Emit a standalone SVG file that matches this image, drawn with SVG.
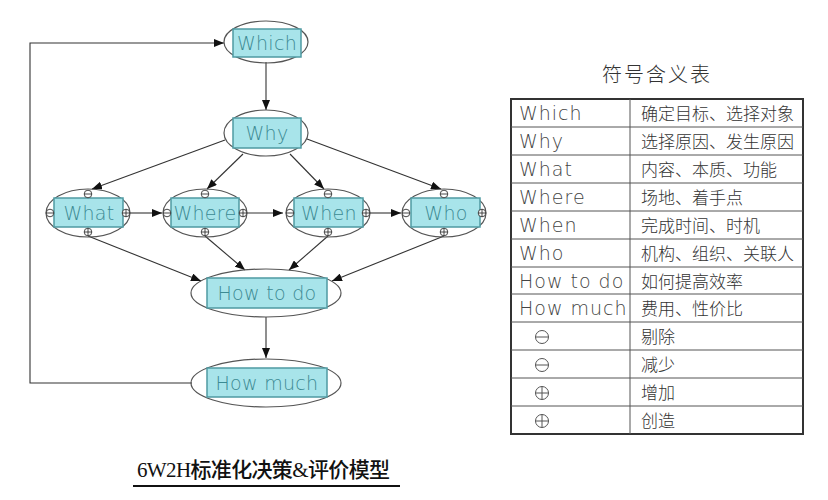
<svg xmlns="http://www.w3.org/2000/svg" width="828" height="500" viewBox="0 0 828 500">
<style>
.ell{fill:none;stroke:#555;stroke-width:1.2}
.box{fill:#a8e4ea;stroke:#4f9aa2;stroke-width:1.5}
.lbl{font-family:"DejaVu Sans",sans-serif;font-weight:200;font-size:19px;fill:#3c8a93;text-anchor:middle;letter-spacing:0.3px}
.con{fill:none;stroke:#333;stroke-width:1.1}
.sym{fill:#fff;stroke:#333;stroke-width:0.9}
.ten{font-family:"DejaVu Sans",sans-serif;font-weight:200;font-size:19px;fill:#444;letter-spacing:1px}
.tcn{font-family:"Noto Sans CJK SC",sans-serif;font-weight:300;font-size:17px;fill:#333}
.grid{stroke:#555;stroke-width:1}
</style>
<defs>
<marker id="ah" markerUnits="userSpaceOnUse" markerWidth="10" markerHeight="8" refX="10" refY="4" orient="auto">
<path d="M0,0 L10,4 L0,8 z" fill="#111"/>
</marker>
<g id="minus"><circle class="sym" r="3.8"/><line x1="-3.8" y1="0" x2="3.8" y2="0" stroke="#333" stroke-width="0.9"/></g>
<g id="plus"><circle class="sym" r="3.8"/><line x1="-3.8" y1="0" x2="3.8" y2="0" stroke="#333" stroke-width="0.9"/><line x1="0" y1="-3.8" x2="0" y2="3.8" stroke="#333" stroke-width="0.9"/></g>
<g id="tminus"><circle fill="none" stroke="#555" stroke-width="1" r="6.5"/><line x1="-6.5" y1="0" x2="6.5" y2="0" stroke="#555" stroke-width="1"/></g>
<g id="tplus"><circle fill="none" stroke="#555" stroke-width="1" r="6.5"/><line x1="-6.5" y1="0" x2="6.5" y2="0" stroke="#555" stroke-width="1"/><line x1="0" y1="-6.5" x2="0" y2="6.5" stroke="#555" stroke-width="1"/></g>
</defs>

<g id="connectors">
<line class="con" x1="266" y1="62" x2="266" y2="110" marker-end="url(#ah)"/>
<line class="con" x1="225" y1="140" x2="92" y2="189" marker-end="url(#ah)"/>
<line class="con" x1="243" y1="154" x2="207" y2="189" marker-end="url(#ah)"/>
<line class="con" x1="290" y1="154" x2="324" y2="189" marker-end="url(#ah)"/>
<line class="con" x1="307" y1="139" x2="441" y2="189" marker-end="url(#ah)"/>
<line class="con" x1="130" y1="213" x2="162" y2="213" marker-end="url(#ah)"/>
<line class="con" x1="247" y1="213" x2="283" y2="213" marker-end="url(#ah)"/>
<line class="con" x1="370" y1="213" x2="401" y2="213" marker-end="url(#ah)"/>
<line class="con" x1="88" y1="236" x2="201" y2="281" marker-end="url(#ah)"/>
<line class="con" x1="205" y1="236" x2="245" y2="270" marker-end="url(#ah)"/>
<line class="con" x1="328" y1="236" x2="289" y2="270" marker-end="url(#ah)"/>
<line class="con" x1="444" y1="236" x2="332" y2="281" marker-end="url(#ah)"/>
<line class="con" x1="266" y1="317" x2="266" y2="358" marker-end="url(#ah)"/>
<polyline class="con" points="192,383 30,383 30,43 224,43" marker-end="url(#ah)"/>
</g>

<g id="which">
<ellipse class="ell" cx="266" cy="42" rx="42" ry="21"/>
<rect class="box" x="233" y="29" width="68" height="28"/>
<text class="lbl" x="267" y="50">Which</text>
</g>
<g id="why">
<ellipse class="ell" cx="266" cy="133" rx="42" ry="23"/>
<rect class="box" x="233" y="118" width="68" height="30"/>
<text class="lbl" x="267" y="140">Why</text>
</g>
<g id="what">
<ellipse class="ell" cx="88" cy="213" rx="42" ry="24"/>
<rect class="box" x="54" y="198" width="69" height="29"/>
<text class="lbl" x="89" y="220">What</text>
<use href="#minus" x="88" y="194"/><use href="#minus" x="50" y="213"/><use href="#plus" x="126" y="213"/><use href="#plus" x="88" y="232"/>
</g>
<g id="where">
<ellipse class="ell" cx="205" cy="213" rx="42" ry="24"/>
<rect class="box" x="171" y="198" width="68" height="29"/>
<text class="lbl" x="205" y="220">Where</text>
<use href="#minus" x="205" y="194"/><use href="#minus" x="167" y="213"/><use href="#plus" x="243" y="213"/><use href="#plus" x="205" y="232"/>
</g>
<g id="when">
<ellipse class="ell" cx="328" cy="213" rx="42" ry="24"/>
<rect class="box" x="294" y="198" width="69" height="29"/>
<text class="lbl" x="329" y="220">When</text>
<use href="#minus" x="328" y="194"/><use href="#minus" x="290" y="213"/><use href="#plus" x="366" y="213"/><use href="#plus" x="328" y="232"/>
</g>
<g id="who">
<ellipse class="ell" cx="444" cy="213" rx="42" ry="24"/>
<rect class="box" x="411" y="198" width="69" height="29"/>
<text class="lbl" x="446" y="220">Who</text>
<use href="#minus" x="444" y="194"/><use href="#minus" x="406" y="213"/><use href="#plus" x="482" y="213"/><use href="#plus" x="444" y="232"/>
</g>
<g id="howtodo">
<ellipse class="ell" cx="266" cy="293" rx="75" ry="24"/>
<rect class="box" x="207" y="278" width="120" height="30"/>
<text class="lbl" x="267" y="300" letter-spacing="1">How to do</text>
</g>
<g id="howmuch">
<ellipse class="ell" cx="266" cy="383" rx="75" ry="24"/>
<rect class="box" x="207" y="368" width="120" height="29"/>
<text class="lbl" x="267" y="390" letter-spacing="1">How much</text>
</g>

<g id="legend">
<text x="657" y="82" font-family="'Noto Sans CJK SC',sans-serif" font-weight="300" font-size="20" fill="#333" text-anchor="middle" letter-spacing="2">符号含义表</text>
<rect x="511" y="99" width="292" height="335" fill="none" stroke="#333" stroke-width="2"/>
<line class="grid" x1="630" y1="99" x2="630" y2="434"/>
<line class="grid" x1="511" y1="127" x2="803" y2="127"/>
<line class="grid" x1="511" y1="155" x2="803" y2="155"/>
<line class="grid" x1="511" y1="183" x2="803" y2="183"/>
<line class="grid" x1="511" y1="211" x2="803" y2="211"/>
<line class="grid" x1="511" y1="239" x2="803" y2="239"/>
<line class="grid" x1="511" y1="267" x2="803" y2="267"/>
<line class="grid" x1="511" y1="294" x2="803" y2="294"/>
<line class="grid" x1="511" y1="322" x2="803" y2="322"/>
<line class="grid" x1="511" y1="350" x2="803" y2="350"/>
<line class="grid" x1="511" y1="378" x2="803" y2="378"/>
<line class="grid" x1="511" y1="406" x2="803" y2="406"/>
<text class="ten" x="519" y="120">Which</text>
<text class="ten" x="519" y="148">Why</text>
<text class="ten" x="519" y="176">What</text>
<text class="ten" x="519" y="204">Where</text>
<text class="ten" x="519" y="232">When</text>
<text class="ten" x="519" y="260">Who</text>
<text class="ten" x="519" y="288">How to do</text>
<text class="ten" x="519" y="315">How much</text>
<use href="#tminus" x="542" y="337"/>
<use href="#tminus" x="542" y="365"/>
<use href="#tplus" x="542" y="393"/>
<use href="#tplus" x="542" y="421"/>
<text class="tcn" x="641" y="120">确定目标、选择对象</text>
<text class="tcn" x="641" y="148">选择原因、发生原因</text>
<text class="tcn" x="641" y="176">内容、本质、功能</text>
<text class="tcn" x="641" y="204">场地、着手点</text>
<text class="tcn" x="641" y="232">完成时间、时机</text>
<text class="tcn" x="641" y="260">机构、组织、关联人</text>
<text class="tcn" x="641" y="288">如何提高效率</text>
<text class="tcn" x="641" y="315">费用、性价比</text>
<text class="tcn" x="641" y="343">剔除</text>
<text class="tcn" x="641" y="371">减少</text>
<text class="tcn" x="641" y="399">增加</text>
<text class="tcn" x="641" y="427">创造</text>
</g>

<g id="caption">
<text x="137" y="477" font-family="'Liberation Serif','Noto Sans CJK SC',serif" font-weight="500" font-size="21" fill="#111" textLength="253">6W2H标准化决策&amp;评价模型</text>
<line x1="133" y1="486" x2="400" y2="486" stroke="#111" stroke-width="2"/>
</g>
</svg>
